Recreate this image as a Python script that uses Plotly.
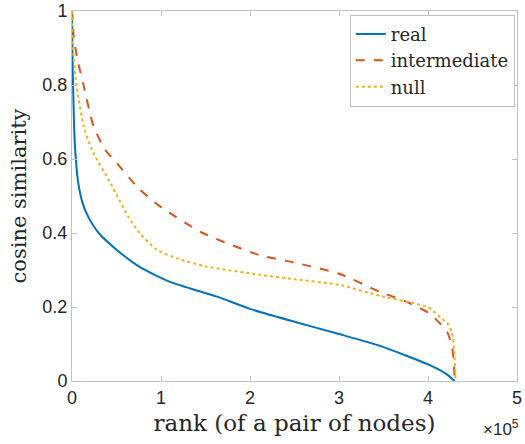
import plotly.graph_objects as go

# rank values (raw) and cosine similarity for each series
real_rank = [0, 400, 1200, 3000, 7000, 12000, 18000, 30000, 50000, 75000, 110000, 163000,
             200000, 250000, 300000, 346000, 402000, 420000, 430000]
real_sim = [1.0, 0.9, 0.8, 0.65, 0.536, 0.48, 0.445, 0.40, 0.355, 0.31, 0.268, 0.228,
            0.195, 0.16, 0.127, 0.095, 0.043, 0.02, 0.0]

inter_rank = [0, 2000, 6000, 13000, 24000, 37000, 50000, 75000, 100000, 147000, 211000,
              250000, 300000, 346000, 376000, 400000, 413000, 422000, 427000, 429000, 430000]
inter_sim = [1.0, 0.93, 0.87, 0.80, 0.69, 0.626, 0.59, 0.52, 0.47, 0.40, 0.34,
             0.32, 0.29, 0.241, 0.214, 0.185, 0.157, 0.13, 0.093, 0.05, 0.0]

null_rank = [0, 1000, 5000, 13000, 22000, 43000, 63000, 76000, 95000, 120000, 150000,
             211000, 250000, 300000, 346000, 376000, 400000, 413000, 422000, 427000, 429500, 431000]
null_sim = [1.0, 0.9, 0.8, 0.69, 0.626, 0.536, 0.445, 0.40, 0.355, 0.33, 0.31,
            0.287, 0.275, 0.26, 0.23, 0.214, 0.20, 0.174, 0.155, 0.13, 0.08, 0.0]

x_ticks = [0, 100000, 200000, 300000, 400000, 500000]
x_ticklabels = ["0", "1", "2", "3", "4", "5"]
y_ticks = [0, 0.2, 0.4, 0.6, 0.8, 1.0]
y_ticklabels = ["0", "0.2", "0.4", "0.6", "0.8", "1"]

fig = go.Figure()
fig.add_trace(go.Scatter(x=real_rank, y=real_sim, mode="lines", name="real",
                         line=dict(color="#0072BD", width=2, shape="spline", smoothing=0.6)))
fig.add_trace(go.Scatter(x=inter_rank, y=inter_sim, mode="lines", name="intermediate",
                         line=dict(color="#D95319", width=2, dash="dash", shape="spline", smoothing=0.6)))
fig.add_trace(go.Scatter(x=null_rank, y=null_sim, mode="lines", name="null",
                         line=dict(color="#EDB120", width=2, dash="dot", shape="spline", smoothing=0.6)))

axis_common = dict(showgrid=False, zeroline=False, showline=True, linecolor="#c0c0c0",
                   linewidth=1, mirror="ticks", ticks="inside", ticklen=5, automargin=False,
                   tickcolor="#c0c0c0", tickfont=dict(family="Liberation Sans", size=18, color="#262626"))

fig.update_layout(
    width=525, height=444,
    margin=dict(l=72, r=8, t=11, b=63),
    plot_bgcolor="white", paper_bgcolor="white",
    xaxis=dict(range=[0, 500000], tickvals=x_ticks, ticktext=x_ticklabels,
               title=dict(text="rank (of a pair of nodes)", standoff=8,
                          font=dict(family="DejaVu Serif", size=23, color="#262626")),
               **axis_common),
    yaxis=dict(range=[0, 1], tickvals=y_ticks, ticktext=y_ticklabels,
               title=dict(text="cosine similarity", standoff=10,
                          font=dict(family="DejaVu Serif", size=21, color="#262626")),
               **axis_common),
    legend=dict(x=0.995, y=0.99, xanchor="right", yanchor="top",
                bgcolor="white", bordercolor="#c0c0c0", borderwidth=1,
                font=dict(family="DejaVu Serif", size=18, color="#262626"),
                itemwidth=30, tracegroupgap=0),
    showlegend=True,
)
fig.add_annotation(x=1.008, y=-0.128, xref="paper", yref="paper", xanchor="right", yanchor="middle",
                   text="×10<sup>5</sup>", showarrow=False,
                   font=dict(family="Liberation Sans", size=17, color="#262626"))

# remove the default page margin so the figure fills the window exactly
fig.write_html("out.html", config={"displayModeBar": False},
               post_script="document.body.style.margin='0px';")
